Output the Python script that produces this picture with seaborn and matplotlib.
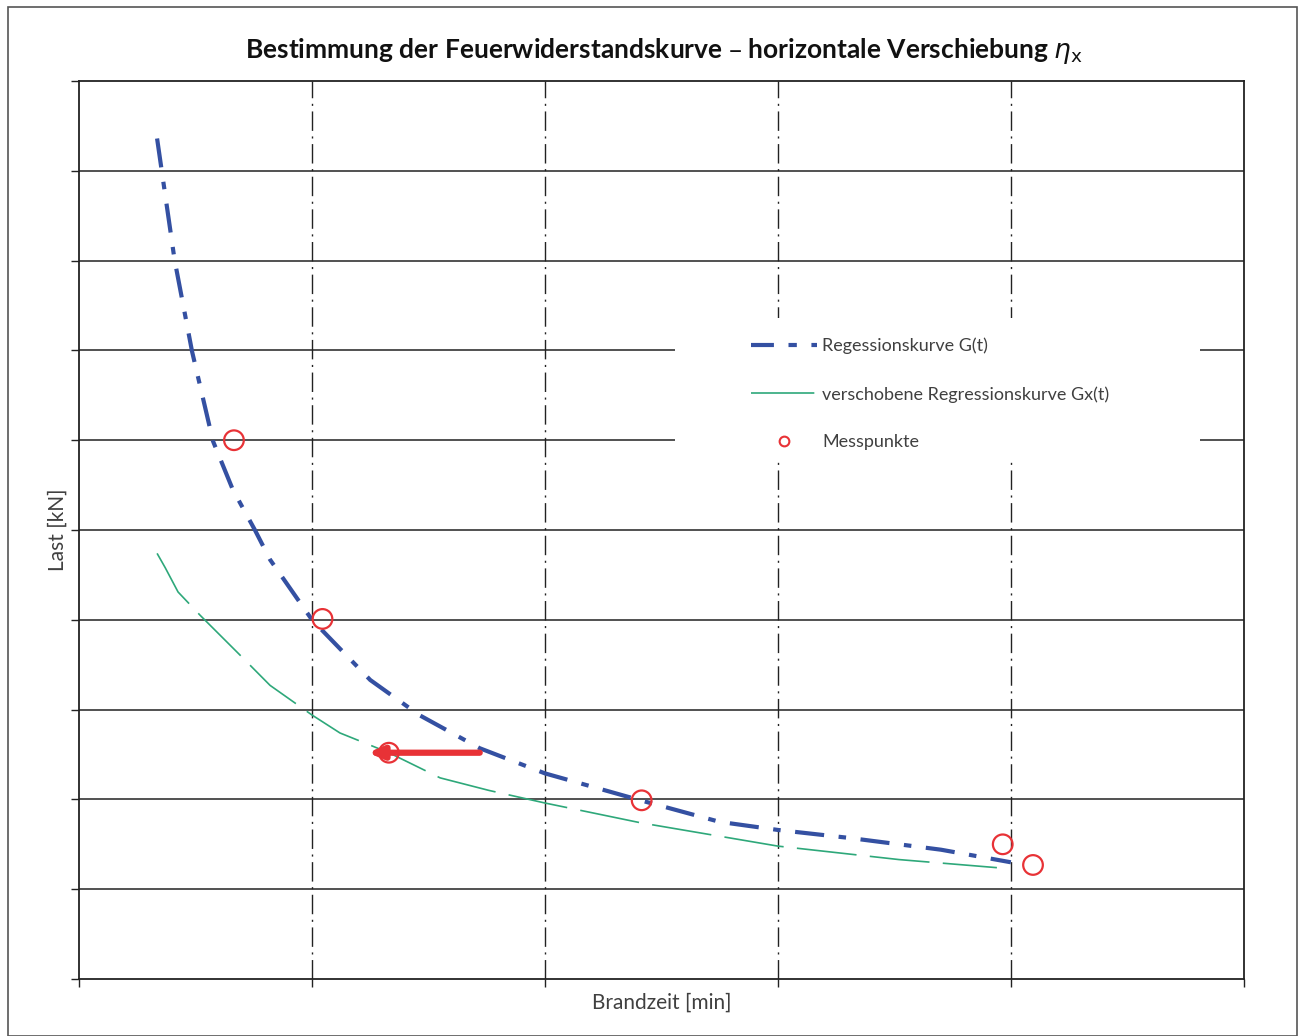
import matplotlib
matplotlib.use("Agg")
import matplotlib.pyplot as plt
import seaborn as sns
import pandas as pd
from matplotlib.lines import Line2D
from matplotlib.patches import Rectangle

# Regressionskurve G(t)
t_reg = [3.35, 4.1, 4.85, 5.75, 6.6, 7.55, 8.2, 10.0, 12.5, 14.6, 17.2, 20.0, 24.1, 27.5, 30.0, 33.1, 37.0, 40.0]
g_reg = [93.6, 80.1, 69.9, 59.9, 54.5, 50.0, 46.7, 40.0, 33.3, 29.4, 25.7, 22.9, 19.9, 17.5, 16.6, 15.7, 14.4, 13.0]

# verschobene Regressionskurve Gx(t)
t_shift = [3.35, 3.7, 4.25, 5.2, 6.9, 8.2, 10.0, 11.2, 13.3, 15.5, 17.6, 20.0, 24.1, 30.0, 35.2, 39.4]
g_shift = [47.4, 45.8, 43.1, 40.5, 36.1, 32.7, 29.4, 27.4, 25.2, 22.4, 21.0, 19.6, 17.4, 14.8, 13.3, 12.4]

# Messpunkte
t_mess = [6.65, 10.45, 13.3, 24.15, 39.65, 40.95]
g_mess = [60.0, 40.1, 25.2, 19.9, 15.0, 12.7]

# Verschiebungspfeil
arrow_from = (17.2, 25.2)
arrow_to = (12.4, 25.2)

x_ticks = [0, 10, 20, 30, 40, 50]
y_ticks = [0, 10, 20, 30, 40, 50, 60, 70, 80, 90, 100]

blue = "#3450a2"
green = "#2ea87a"
red = "#e83236"
txt_col = "#404040"

sns.set_theme(style="white")
plt.rcParams["font.family"] = ["Lato", "DejaVu Sans"]

fig = plt.figure(figsize=(13, 10.36), dpi=100)
ax = fig.add_axes([0.0608, 0.055, 0.896, 0.8668])

# Rahmen um die ganze Grafik
fig.patches.append(Rectangle((0.006, 0.0), 0.992, 0.993, transform=fig.transFigure,
                             fill=False, edgecolor="#555555", linewidth=1.2))

for y in y_ticks[1:-1]:
    ax.axhline(y, color="#222222", lw=1.1, zorder=1)
for x in x_ticks[1:-1]:
    ax.axvline(x, color="#222222", lw=1.0, linestyle=(0, (14, 4, 1.5, 4)), zorder=1)

# weisse Flaeche hinter der Legende
ax.add_patch(Rectangle((0.512, 0.578), 0.45, 0.158, transform=ax.transAxes,
                       facecolor="white", edgecolor="none", zorder=2))

df_reg = pd.DataFrame({"t": t_reg, "G": g_reg})
df_shift = pd.DataFrame({"t": t_shift, "G": g_shift})
df_mess = pd.DataFrame({"t": t_mess, "G": g_mess})

sns.lineplot(data=df_shift, x="t", y="G", ax=ax, color=green, lw=1.2,
             linestyle=(0, (36, 8)), sort=False, zorder=3)
sns.lineplot(data=df_reg, x="t", y="G", ax=ax, color=blue, lw=3,
             linestyle=(0, (7, 3.5, 1.8, 3.5)), sort=False, zorder=4)

ax.annotate("", xy=arrow_to, xytext=arrow_from,
            arrowprops=dict(arrowstyle="-|>,head_length=0.7,head_width=0.3",
                            color=red, lw=4.5, shrinkA=0, shrinkB=0), zorder=5)

sns.scatterplot(data=df_mess, x="t", y="G", ax=ax, marker="o", s=200,
                facecolor="none", edgecolor=red, linewidth=1.6, zorder=6)

ax.set_xlim(0, 50)
ax.set_ylim(0, 100)
ax.set_xticks(x_ticks)
ax.set_yticks(y_ticks)
ax.set_xticklabels([])
ax.set_yticklabels([])
ax.tick_params(axis="both", direction="out", length=6, width=1, color="#222222",
               bottom=True, left=True, pad=0)
for s in ax.spines.values():
    s.set_color("#222222")
    s.set_linewidth(1.3)

ax.set_xlabel("Brandzeit [min]", fontsize=15, color=txt_col, labelpad=4)
ax.set_ylabel("Last [kN]", fontsize=15, color=txt_col, labelpad=2)

fig.text(0.511, 0.951, r"Bestimmung der Feuerwiderstandskurve – horizontale Verschiebung $\eta_\mathrm{x}$",
         ha="center", va="center", fontsize=19, fontweight="bold", color="#111111")

handles = [
    Line2D([], [], color=blue, lw=3, linestyle=(0, (5.5, 3.5, 2, 3.5))),
    Line2D([], [], color=green, lw=1.2, linestyle=(0, (38, 11, 3, 30))),
    Line2D([], [], color=red, lw=0, marker="o", markersize=7, markerfacecolor="none",
           markeredgewidth=1.5),
]
labels = ["Regessionskurve G(t)", "verschobene Regressionskurve Gx(t)", "Messpunkte"]
leg = ax.legend(handles, labels, loc="upper left", bbox_to_anchor=(0.577, 0.714),
                frameon=False, fontsize=13, handlelength=3.65, handletextpad=0.3,
                labelspacing=1.75, borderpad=0, borderaxespad=0)
for txt in leg.get_texts():
    txt.set_color(txt_col)
leg.set_zorder(7)

fig.savefig("out.png", dpi=100)
